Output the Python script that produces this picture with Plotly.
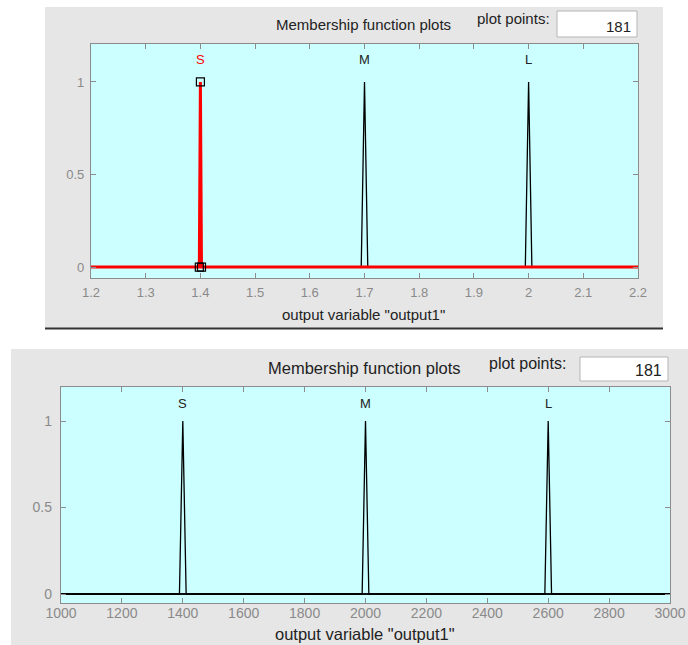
import plotly.graph_objects as go

W, H = 688, 645

# ---------------- data ----------------
mf_names = ["S", "M", "L"]
top_range = [1.2, 2.2]
top_params = [[1.398, 1.4, 1.402], [1.694, 1.7, 1.706], [1.994, 2.0, 2.006]]
top_xticks = [1.2, 1.3, 1.4, 1.5, 1.6, 1.7, 1.8, 1.9, 2.0, 2.1, 2.2]
top_xticktext = ["1.2", "1.3", "1.4", "1.5", "1.6", "1.7", "1.8", "1.9", "2", "2.1", "2.2"]
top_selected = "S"

bot_range = [1000, 3000]
bot_params = [[1389, 1400, 1411], [1989, 2000, 2011], [2589, 2600, 2611]]
bot_xticks = [1000, 1200, 1400, 1600, 1800, 2000, 2200, 2400, 2600, 2800, 3000]
bot_xticktext = [str(v) for v in bot_xticks]

y_ticks = [0, 0.5, 1]
y_ticktext = ["0", "0.5", "1"]
plot_points = "181"
panel_title = "Membership function plots"
points_label = "plot points:"
x_title = 'output variable "output1"'

FONT = "Liberation Sans, Arial, sans-serif"
GRAY_PANEL = "#e6e6e6"
CYAN = "#ccffff"
TICKGRAY = "#8a8a8a"

def px(x):
    return x / W

def py(y):
    return 1 - y / H

fig = go.Figure()

def add_mfs(params, rng, xa, ya, selected=None):
    sel_trace = None
    for name, p in zip(mf_names, params):
        xs = [rng[0], p[0], p[1], p[2], rng[1]]
        ys = [0, 0, 1, 0, 0]
        if name == selected:
            sel_trace = (name, p, xs, ys)
            continue
        fig.add_trace(go.Scatter(x=xs, y=ys, mode="lines", xaxis=xa, yaxis=ya,
                                 line=dict(color="black", width=1.3), showlegend=False,
                                 hoverinfo="skip"))
    if sel_trace:
        name, p, xs, ys = sel_trace
        fig.add_trace(go.Scatter(x=xs, y=ys, mode="lines", xaxis=xa, yaxis=ya,
                                 line=dict(color="#ff0000", width=3), showlegend=False,
                                 hoverinfo="skip"))
        fig.add_trace(go.Scatter(x=[p[0], p[1], p[2]], y=[0, 1, 0], mode="markers",
                                 xaxis=xa, yaxis=ya,
                                 marker=dict(symbol="square-open", size=8,
                                             color="black", line=dict(width=1.2)),
                                 showlegend=False, hoverinfo="skip"))

add_mfs(top_params, top_range, "x", "y", selected=top_selected)
add_mfs(bot_params, bot_range, "x2", "y2")

annotations = []
for name, p in zip(mf_names, top_params):
    annotations.append(dict(x=p[1], y=1.12, xref="x", yref="y", text=name,
                            showarrow=False,
                            font=dict(family=FONT, size=13,
                                      color="#ff0000" if name == top_selected else "#222222")))
for name, p in zip(mf_names, bot_params):
    annotations.append(dict(x=p[1], y=1.1, xref="x2", yref="y2", text=name,
                            showarrow=False, font=dict(family=FONT, size=13, color="#222222")))

def txt(x, y, s, size=13, color="#222222", xanchor="center"):
    annotations.append(dict(x=px(x), y=py(y), xref="paper", yref="paper", text=s,
                            showarrow=False, xanchor=xanchor, yanchor="middle",
                            font=dict(family=FONT, size=size, color=color)))

# top panel texts
txt(363, 24, panel_title, 15)
txt(513, 19, points_label, 15)
txt(633, 27, plot_points, 15, xanchor="right")
txt(363, 314, x_title, 15)
# bottom panel texts
txt(364, 368, panel_title, 16.5)
txt(527, 363, points_label, 16)
txt(664, 370, plot_points, 16, xanchor="right")
txt(365, 634, x_title, 16.5)

shapes = [
    # gray panels
    dict(type="rect", xref="paper", yref="paper", x0=px(45), x1=px(663), y0=py(328), y1=py(7),
         fillcolor=GRAY_PANEL, line=dict(width=0), layer="below"),
    dict(type="line", xref="paper", yref="paper", x0=px(45), x1=px(663), y0=py(328.5), y1=py(328.5),
         line=dict(color="#333333", width=2), layer="below"),
    dict(type="rect", xref="paper", yref="paper", x0=px(11), x1=px(688), y0=py(645), y1=py(349),
         fillcolor=GRAY_PANEL, line=dict(width=0), layer="below"),
    # cyan plot areas
    dict(type="rect", xref="paper", yref="paper", x0=px(91), x1=px(638), y0=py(278), y1=py(44),
         fillcolor=CYAN, line=dict(width=0), layer="below"),
    dict(type="rect", xref="paper", yref="paper", x0=px(61), x1=px(670), y0=py(603), y1=py(387),
         fillcolor=CYAN, line=dict(width=0), layer="below"),
    # plot points boxes
    dict(type="rect", xref="paper", yref="paper", x0=px(557), x1=px(637), y0=py(37), y1=py(11),
         fillcolor="white", line=dict(color="#b5b5b5", width=1), layer="below"),
    dict(type="rect", xref="paper", yref="paper", x0=px(580), x1=px(668), y0=py(381), y1=py(357),
         fillcolor="white", line=dict(color="#b5b5b5", width=1), layer="below"),
]

axis_common = dict(showline=True, mirror="allticks", linecolor="#8c8c8c", linewidth=1.3,
                   ticks="inside", ticklen=5, tickcolor="#8c8c8c", showgrid=False,
                   zeroline=False, fixedrange=True, automargin=False)

fig.update_layout(
    width=W, height=H, margin=dict(l=0, r=0, t=0, b=0, pad=0),
    paper_bgcolor="white", plot_bgcolor=CYAN, showlegend=False,
    shapes=shapes, annotations=annotations,
    xaxis=dict(domain=[px(91), px(638)], range=top_range, tickvals=top_xticks,
               ticktext=top_xticktext, anchor="y", ticklabelstandoff=2,
               tickfont=dict(family=FONT, size=13, color=TICKGRAY), **axis_common),
    yaxis=dict(domain=[py(278), py(44)], range=[-0.059, 1.205], tickvals=y_ticks,
               ticktext=y_ticktext, anchor="x", ticklabelstandoff=3,
               tickfont=dict(family=FONT, size=13, color=TICKGRAY), **axis_common),
    xaxis2=dict(domain=[px(61), px(670)], range=bot_range, tickvals=bot_xticks,
                ticktext=bot_xticktext, anchor="y2", ticklabelstandoff=-3,
                tickfont=dict(family=FONT, size=14, color=TICKGRAY), **axis_common),
    yaxis2=dict(domain=[py(603), py(387)], range=[-0.052, 1.197], tickvals=y_ticks,
                ticktext=y_ticktext, anchor="x2", ticklabelstandoff=5,
                tickfont=dict(family=FONT, size=14, color=TICKGRAY), **axis_common),
)

fig.write_html("out.html")
